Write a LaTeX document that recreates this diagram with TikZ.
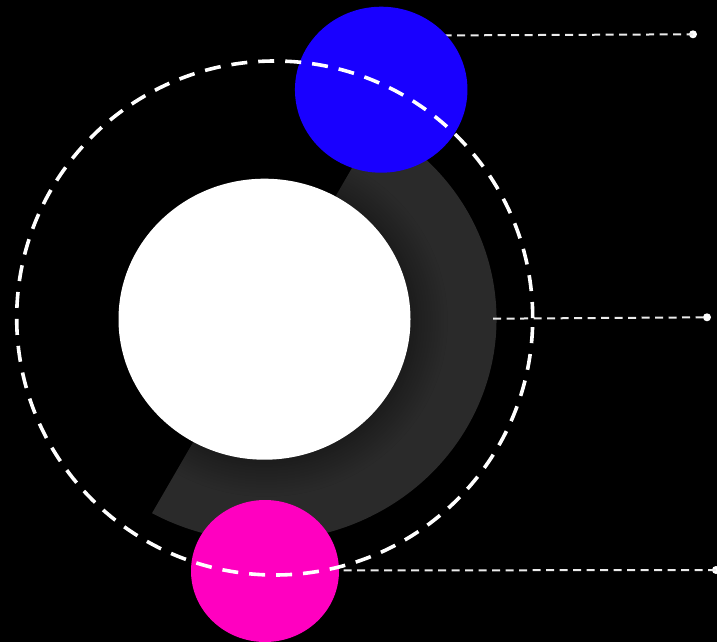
\documentclass[tikz,border=0pt]{standalone}
\usetikzlibrary{shapes.geometric,shadows.blur}
\definecolor{bandgray}{RGB}{42,42,42}
\definecolor{topblue}{RGB}{25,0,255}
\definecolor{botpink}{RGB}{255,0,192}
\begin{document}
\begin{tikzpicture}[x=1pt,y=-1pt,
  orbit/.style={draw=white,line width=3.6pt,dash pattern=on 16pt off 11pt},
  leader/.style={draw=white!92!black,line width=2pt,dash pattern=on 8pt off 5.5pt},
  enddot/.style={circle,fill=white,inner sep=0pt,minimum size=8pt},
  disc/.style={ellipse,inner sep=0pt}]
\fill[black] (0,0) rectangle (717,642);
\useasboundingbox (0,0) rectangle (717,642);
% grey half band
\coordinate (c) at (264.5,319);
\fill[bandgray] (c) -- ++(-61:232 and 222) arc[start angle=-61, end angle=119, x radius=232, y radius=222] -- cycle;
% central white disc
\node[disc, fill=white, minimum width=292pt, minimum height=281pt,
  blur shadow={shadow xshift=2pt, shadow yshift=-2pt, shadow scale=1.04, shadow blur radius=28pt, shadow blur steps=20, shadow opacity=50}] (core) at (264.5,319.2) {};
% leaders behind the small discs
\coordinate (t0) at (430,35.5);
\node[enddot] (td) at (693,34.3) {};
\draw[leader] (t0) -- (td.center);
\coordinate (b0) at (330,570.5);
\node[enddot] (bd) at (716,570) {};
\draw[leader] (b0) -- (bd.center);
% small discs
\node[disc, fill=topblue, minimum width=172.5pt, minimum height=166pt] (blue) at (381.2,89.7) {};
\node[disc, fill=botpink, minimum width=148pt, minimum height=142pt] (pink) at (265,571) {};
% middle leader
\coordinate (m0) at (493,318.7);
\node[enddot] (md) at (707,317.3) {};
\draw[leader] (m0) -- (md.center);
% dashed orbit
\node[disc, minimum width=516pt, minimum height=514pt, orbit] (ring) at (274.7,318) {};
\end{tikzpicture}
\end{document}
